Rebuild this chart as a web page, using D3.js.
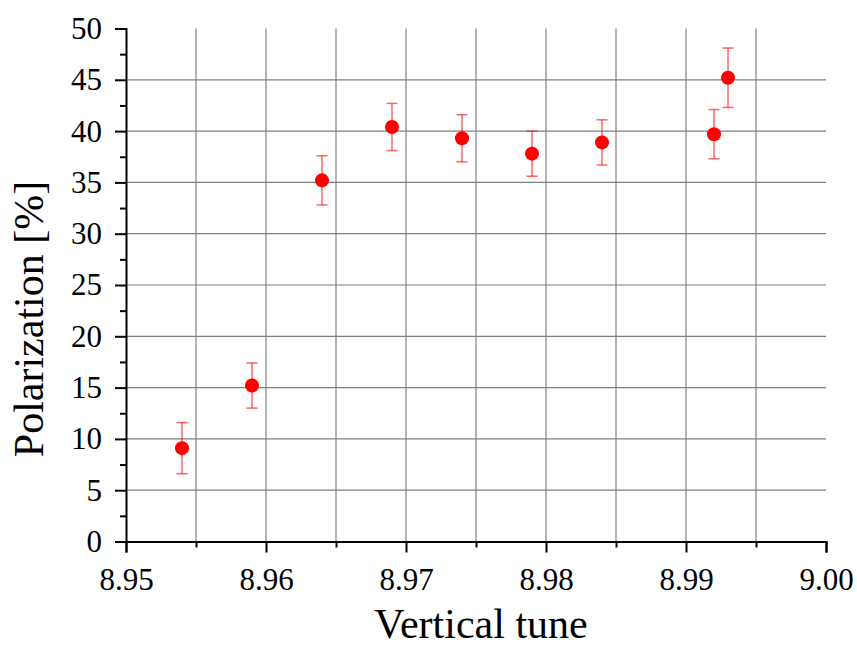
<!DOCTYPE html>
<html><head><meta charset="utf-8">
<script src="https://cdn.jsdelivr.net/npm/d3@7"></script>
<style>body{margin:0;background:#fff}svg{display:block}
svg text{font-family:"Liberation Serif","Times New Roman",serif;fill:#000}</style>
</head><body>
<svg id="c" width="857" height="647"></svg>
<script>
const tunes = [8.954, 8.959, 8.964, 8.969, 8.974, 8.979, 8.984, 8.992, 8.993];
const polarization = [9.1, 15.2, 35.2, 40.4, 39.3, 37.8, 38.9, 39.7, 45.2];
const errors = [2.5, 2.2, 2.4, 2.3, 2.3, 2.2, 2.2, 2.4, 2.9];
const xTicks = [8.95, 8.96, 8.97, 8.98, 8.99, 9.00];
const yTicks = [0, 5, 10, 15, 20, 25, 30, 35, 40, 45, 50];
const xTitle = "Vertical tune";
const yTitle = "Polarization [%]";

const svg = d3.select("#c");
const L = 126, R = 826, T = 28.5, B = 541.5;
const x = d3.scaleLinear().domain([8.95, 9.00]).range([L, R]);
const y = d3.scaleLinear().domain([0, 50]).range([B, T]);

// vertical grid (every 0.005, excluding axis and 9.00)
const vGrid = d3.range(1, 10).map(i => 8.95 + i * 0.005);
svg.append("g").selectAll("line").data(vGrid).join("line")
  .attr("x1", d => x(d)).attr("x2", d => x(d))
  .attr("y1", T).attr("y2", B)
  .attr("stroke", "#b4b4b4").attr("stroke-width", 2);
// horizontal grid
svg.append("g").selectAll("line").data(yTicks.filter(d => d > 0 && d < 50)).join("line")
  .attr("x1", L).attr("x2", R)
  .attr("y1", d => y(d)).attr("y2", d => y(d))
  .attr("stroke", "#808080").attr("stroke-width", 1.2);

// axes
const xAxis = d3.axisBottom(x).tickValues(xTicks).tickFormat(d3.format(".2f")).tickSize(11).tickPadding(15);
const gx = svg.append("g").attr("transform", `translate(0,${B})`).call(xAxis);
const yAxis = d3.axisLeft(y).tickValues(yTicks).tickFormat(d3.format("d")).tickSize(11).tickPadding(13);
const gy = svg.append("g").attr("transform", `translate(${L},0)`).call(yAxis);
// minor ticks
const xMinor = d3.axisBottom(x).tickValues(d3.range(0, 5).map(i => 8.955 + i * 0.01)).tickSize(6).tickFormat("");
const gxm = svg.append("g").attr("transform", `translate(0,${B})`).call(xMinor);
const yMinor = d3.axisLeft(y).tickValues(d3.range(0, 10).map(i => 2.5 + i * 5)).tickSize(6).tickFormat("");
const gym = svg.append("g").attr("transform", `translate(${L},0)`).call(yMinor);
[gx, gy, gxm, gym].forEach(g => {
  g.attr("font-family", null).attr("font-size", null);
  g.select(".domain").attr("stroke", "#000").attr("stroke-width", 2);
  g.selectAll(".tick line").attr("stroke", "#000").attr("stroke-width", 2);
  g.selectAll("text").style("font-size", "31px");
});
gxm.select(".domain").remove();
gym.select(".domain").remove();

// error bars
const eb = svg.append("g").attr("stroke", "rgba(255,0,0,0.6)").attr("stroke-width", 1.5);
tunes.forEach((t, i) => {
  const cx = x(t), y1 = y(polarization[i] + errors[i]), y2 = y(polarization[i] - errors[i]);
  eb.append("line").attr("x1", cx).attr("x2", cx).attr("y1", y1).attr("y2", y2);
  eb.append("line").attr("x1", cx - 5.5).attr("x2", cx + 5.5).attr("y1", y1).attr("y2", y1);
  eb.append("line").attr("x1", cx - 5.5).attr("x2", cx + 5.5).attr("y1", y2).attr("y2", y2);
});
// points
svg.append("g").selectAll("circle").data(tunes).join("circle")
  .attr("cx", d => x(d)).attr("cy", (d, i) => y(polarization[i])).attr("r", 7)
  .attr("fill", "#ff0000");

// titles
svg.append("text").attr("x", 481).attr("y", 637.5).attr("text-anchor", "middle")
  .style("font-size", "42px").text(xTitle);
svg.append("text").attr("transform", "translate(43,319) rotate(-90)").attr("text-anchor", "middle")
  .style("font-size", "42px").text(yTitle);
</script>
</body></html>
